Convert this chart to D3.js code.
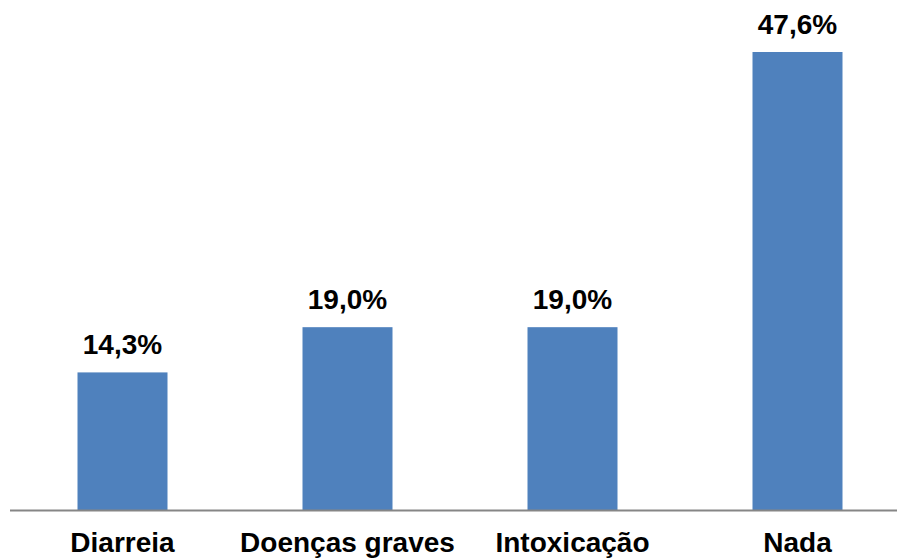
<!DOCTYPE html>
<html>
<head>
<meta charset="utf-8">
<script src="https://cdn.jsdelivr.net/npm/d3@7"></script>
<style>
  body { margin: 0; background: #fff; }
  svg { display: block; }
</style>
</head>
<body>
<div id="chart"></div>
<script>
// dados do gráfico
var categories = ["Diarreia", "Doenças graves", "Intoxicação", "Nada"];
var values = [14.3, 19.0, 19.0, 47.6];
var valueLabels = ["14,3%", "19,0%", "19,0%", "47,6%"];

var width = 897, height = 558;
var baseY = 510;

var svg = d3.select("#chart").append("svg")
    .attr("width", width)
    .attr("height", height);

// escalas
var x = d3.scaleBand()
    .domain(categories)
    .range([10, 910])
    .paddingInner(0.6)
    .paddingOuter(0.3);

var y = d3.scaleLinear()
    .domain([0, 47.6])
    .range([baseY, 52]);

// barras
svg.selectAll("rect.bar")
    .data(values)
    .enter().append("rect")
    .attr("class", "bar")
    .attr("x", (d, i) => x(categories[i]))
    .attr("y", d => y(d))
    .attr("width", x.bandwidth())
    .attr("height", d => baseY - y(d))
    .style("fill", "#4F81BD");

// linha do eixo
svg.append("line")
    .attr("x1", 10).attr("x2", 897)
    .attr("y1", baseY + 0.5).attr("y2", baseY + 0.5)
    .style("stroke", "#868686")
    .style("stroke-width", 2);

// rótulos dos valores
svg.selectAll("text.val")
    .data(values)
    .enter().append("text")
    .attr("class", "val")
    .attr("x", (d, i) => x(categories[i]) + x.bandwidth() / 2)
    .attr("y", d => y(d) - 18)
    .attr("text-anchor", "middle")
    .style("font-family", "Liberation Sans, Arial, sans-serif")
    .style("font-weight", "bold")
    .style("font-size", "28px")
    .text((d, i) => valueLabels[i]);

// rótulos das categorias
svg.selectAll("text.cat")
    .data(categories)
    .enter().append("text")
    .attr("class", "cat")
    .attr("x", d => x(d) + x.bandwidth() / 2)
    .attr("y", 552)
    .attr("text-anchor", "middle")
    .style("font-family", "Liberation Sans, Arial, sans-serif")
    .style("font-weight", "bold")
    .style("font-size", "28px")
    .text(d => d);
</script>
</body>
</html>
